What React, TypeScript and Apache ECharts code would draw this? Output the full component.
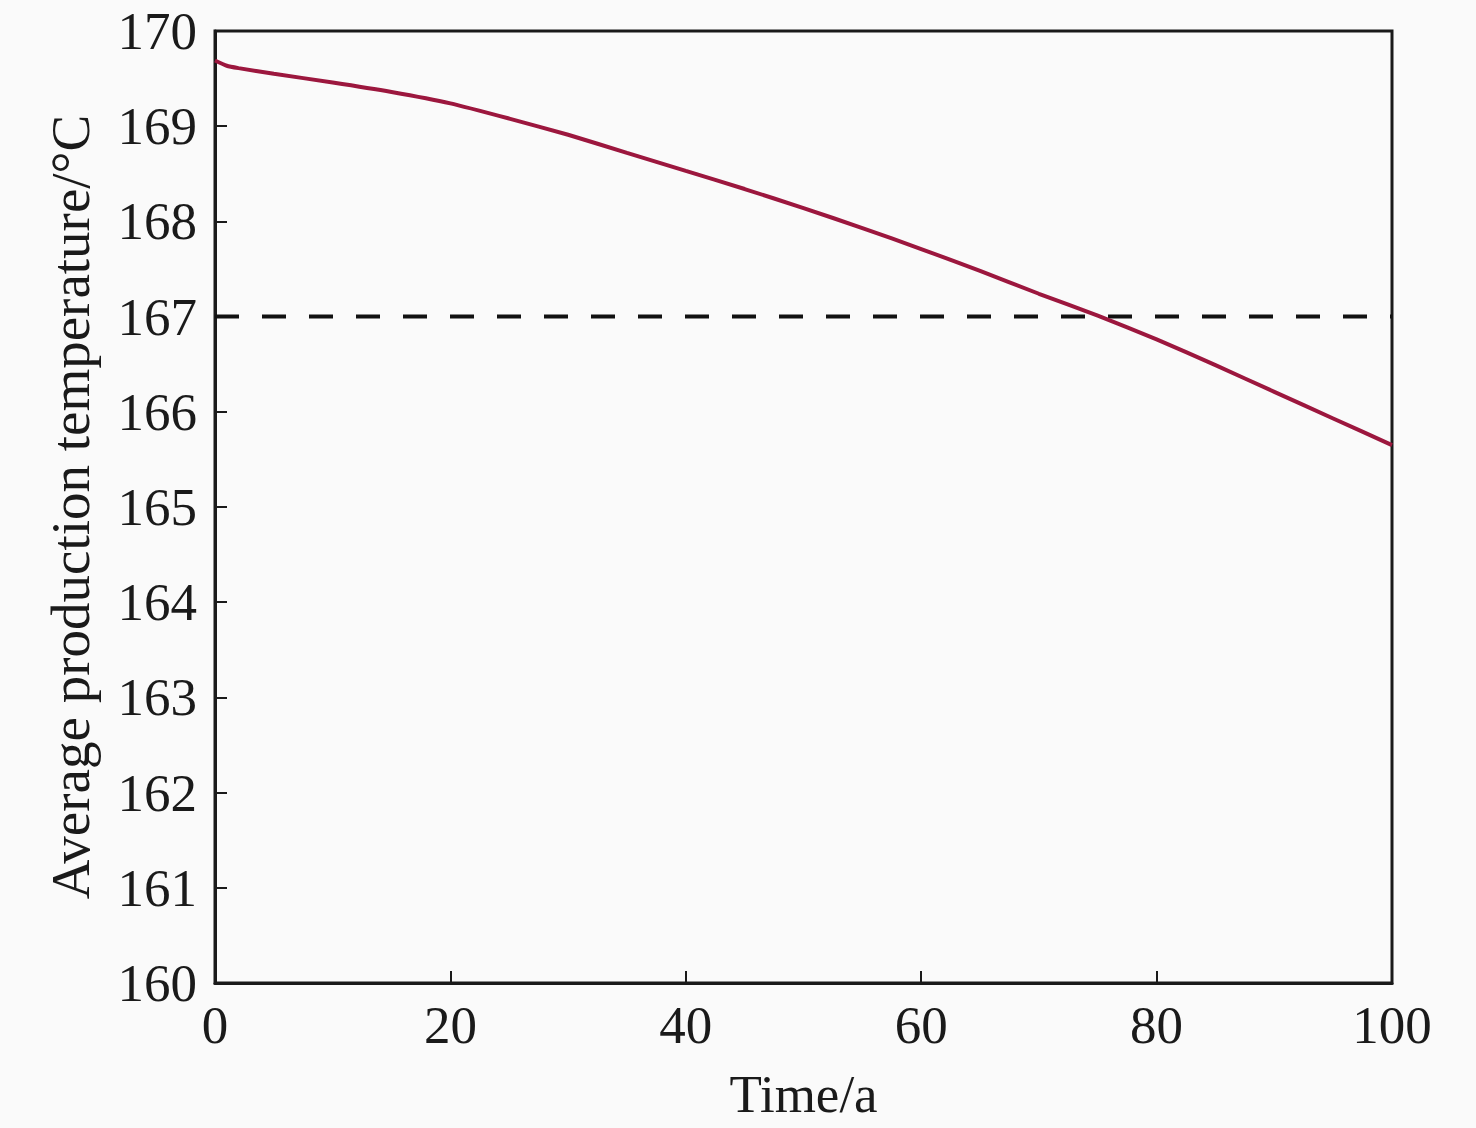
import React, { useEffect, useRef } from "react";
import * as echarts from "echarts";

const timeYears = [0, 1, 2, 5, 10, 15, 20, 25, 30, 35, 40, 45, 50, 55, 60, 65, 70, 75, 80, 85, 90, 95, 100];
const avgTemp = [169.69, 169.635, 169.61, 169.55, 169.46, 169.36, 169.24, 169.08, 168.91, 168.72, 168.53, 168.34, 168.14, 167.93, 167.71, 167.48, 167.24, 167.01, 166.76, 166.49, 166.21, 165.93, 165.65];
const thresholdX = [0, 100];
const thresholdValue = 167;

const FONT = "'Liberation Serif', 'Times New Roman', serif";

export default function App() {
  const ref = useRef<HTMLDivElement>(null);
  useEffect(() => {
    if (!ref.current) return;
    const chart = echarts.init(ref.current, null, { renderer: "svg" });
    chart.setOption({
      animation: false,
      backgroundColor: "#fafafa",
      grid: {
        left: 215,
        right: 84,
        top: 31,
        bottom: 145,
        show: true,
        borderColor: "#1a1a1a",
        borderWidth: 3,
        backgroundColor: "transparent",
      },
      xAxis: {
        type: "value",
        min: 0,
        max: 100,
        interval: 20,
        name: "Time/a",
        nameLocation: "middle",
        nameGap: 84,
        nameTextStyle: { fontFamily: FONT, fontSize: 53, color: "#1a1a1a" },
        axisLine: { show: true, lineStyle: { color: "#1a1a1a", width: 3 } },
        axisTick: { show: true, inside: true, length: 12, lineStyle: { color: "#1a1a1a", width: 2 } },
        axisLabel: { fontFamily: FONT, fontSize: 53, color: "#1a1a1a", margin: 15 },
        splitLine: { show: false },
      },
      yAxis: {
        type: "value",
        min: 160,
        max: 170,
        interval: 1,
        name: "Average production temperature/°C",
        nameLocation: "middle",
        nameGap: 145,
        nameRotate: 90,
        nameTextStyle: { fontFamily: FONT, fontSize: 55, color: "#1a1a1a", verticalAlign: "middle" },
        axisLine: { show: true, lineStyle: { color: "#1a1a1a", width: 3 } },
        axisTick: { show: true, inside: true, length: 12, lineStyle: { color: "#1a1a1a", width: 2 } },
        axisLabel: { fontFamily: FONT, fontSize: 53, color: "#1a1a1a", margin: 18 },
        splitLine: { show: false },
      },
      series: [
        {
          type: "line",
          data: thresholdX.map((x) => [x, thresholdValue]),
          symbol: "none",
          lineStyle: { color: "#111", width: 4, type: [24, 23] },
          z: 2,
        },
        {
          type: "line",
          data: timeYears.map((t, i) => [t, avgTemp[i]]),
          symbol: "none",
          smooth: 0.2,
          lineStyle: { color: "#9c173e", width: 4 },
          z: 3,
        },
      ],
    });
    return () => chart.dispose();
  }, []);
  return (
    <div
      ref={ref}
      style={{ position: "fixed", left: 0, top: 0, width: 1476, height: 1128 }}
    />
  );
}
